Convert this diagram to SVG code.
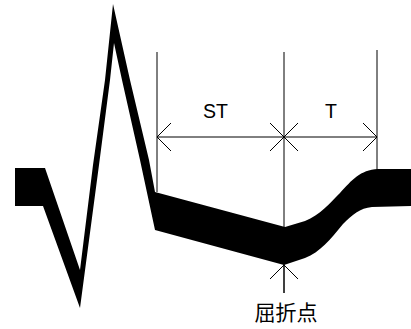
<svg xmlns="http://www.w3.org/2000/svg" width="411" height="329" viewBox="0 0 411 329">
  <style>
    .dim { stroke: #000; stroke-width: 1; fill: none; }
    .lbl { font-family: "Liberation Sans", Arial, sans-serif; font-size: 19.5px; fill: #000; }
    .cjk { font-family: "Noto Sans CJK JP", "Noto Sans CJK SC", sans-serif; font-size: 21px; fill: #000; }
  </style>
  <defs>
    <marker id="arr" markerUnits="userSpaceOnUse" viewBox="-15 -15 30 30" markerWidth="30" markerHeight="30" refX="0" refY="0" orient="auto-start-reverse" overflow="visible">
      <path d="M-14,-14 L0,0 L-14,14" fill="none" stroke="#000" stroke-width="1"/>
    </marker>
  </defs>
  <rect width="411" height="329" fill="#fff"/>
  <g id="waveform">
    <path fill="#000" d="M15,168 L45,168 L80,270 L93,165 L105,80 L113,4 L130,80 L149,160 L155,192 L285,227 L305,221 C320,215 330,203 340,193 C352,180 360,170 378,169 L411,169 L411,206 L372,207 C360,208 352,215 343,224 C330,240 320,252 305,258 L284,265 L155,230 L140,160 L122,80 L114,43 L110,80 L99,165 L80,308 L43,206 L15,206 Z"/>
  </g>
  <g id="connectors">
    <line class="dim" x1="157" y1="52" x2="157" y2="192"/>
    <line class="dim" x1="284" y1="52" x2="284" y2="293"/>
    <line class="dim" x1="377" y1="50" x2="377" y2="170"/>
    <line class="dim" x1="157" y1="137" x2="284" y2="137" marker-start="url(#arr)" marker-end="url(#arr)"/>
    <line class="dim" x1="284" y1="137" x2="377" y2="137" marker-start="url(#arr)" marker-end="url(#arr)"/>
    <line class="dim" x1="284" y1="293" x2="284" y2="265" marker-end="url(#arr)"/>
  </g>
  <g id="label-st">
    <text class="lbl" x="203" y="118">ST</text>
  </g>
  <g id="label-t">
    <text class="lbl" x="325" y="118">T</text>
  </g>
  <g id="label-inflection">
    <text class="cjk" x="286" y="320" text-anchor="middle">屈折点</text>
  </g>
</svg>
